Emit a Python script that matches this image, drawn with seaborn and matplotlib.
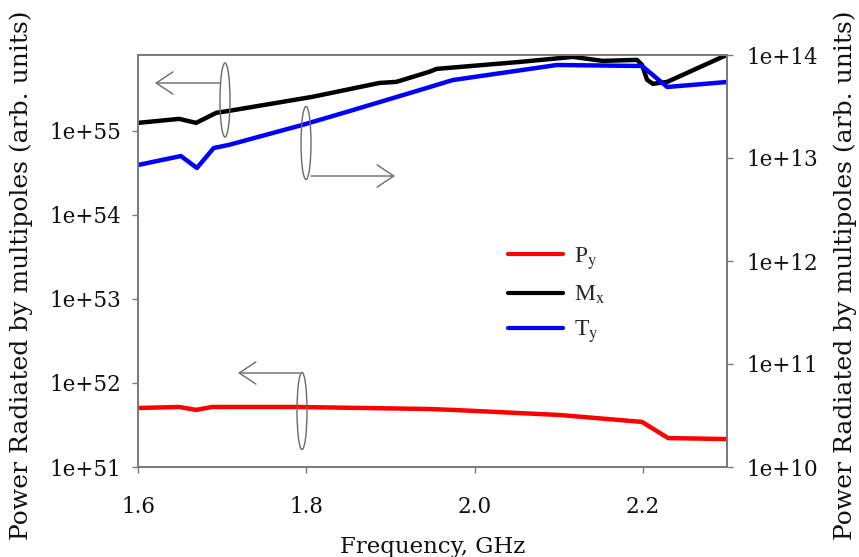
import numpy as np
import pandas as pd
import matplotlib
matplotlib.use("Agg")
import matplotlib.pyplot as plt
from matplotlib.patches import Ellipse, FancyArrowPatch
from matplotlib.lines import Line2D
from matplotlib.ticker import FixedLocator, FuncFormatter, NullLocator
import seaborn as sns

# ---------------- data ----------------
mx_freq = [1.600, 1.649, 1.669, 1.693, 1.708, 1.807, 1.887, 1.907, 1.946, 1.955,
           2.054, 2.117, 2.152, 2.193, 2.199, 2.205, 2.212, 2.229, 2.300]
mx_power = [1.245e55, 1.39e55, 1.245e55, 1.64e55, 1.73e55, 2.54e55, 3.72e55, 3.83e55,
            5.04e55, 5.47e55, 6.62e55, 7.60e55, 6.81e55, 7.00e55, 6.11e55, 4.05e55,
            3.63e55, 3.83e55, 8.04e55]

ty_freq = [1.600, 1.651, 1.670, 1.690, 1.708, 1.795, 1.848, 1.935, 1.974, 2.098,
           2.199, 2.229, 2.300]
ty_power = [8.55e12, 1.045e13, 8.0e12, 1.25e13, 1.34e13, 2.09e13, 2.80e13, 4.57e13,
            5.71e13, 8.0e13, 7.82e13, 4.89e13, 5.47e13]

py_freq = [1.600, 1.649, 1.669, 1.688, 1.788, 1.946, 1.974, 2.101, 2.199, 2.230, 2.300]
py_power = [5.04e51, 5.18e51, 4.78e51, 5.18e51, 5.18e51, 4.90e51, 4.78e51, 4.16e51,
            3.44e51, 2.21e51, 2.15e51]

x_ticks = [1.6, 1.8, 2.0, 2.2]
left_ticks = [1e51, 1e52, 1e53, 1e54, 1e55]
right_ticks = [1e10, 1e11, 1e12, 1e13, 1e14]
left_lim = (1e51, 8.0e55)
right_lim = (1e10, 1e14)
labels = [r'P$_{\rm y}$', r'M$_{\rm x}$', r'T$_{\rm y}$']
colors = ['#ff0000', '#000000', '#0000ff']
ylabel = 'Power Radiated by multipoles (arb. units)'
xlabel = 'Frequency, GHz'

# ---------------- style ----------------
sns.set_theme(style='white')
plt.rcParams['font.family'] = ['DejaVu Serif']
plt.rcParams['mathtext.fontset'] = 'stix'

W, H = 859, 557
fig = plt.figure(figsize=(W / 100, H / 100), dpi=100)
ax = fig.add_axes([138 / W, 1 - 467 / H, (727 - 138) / W, (467 - 55) / H])
ax2 = ax.twinx()
ax.set_yscale('log')
ax2.set_yscale('log')

lw = 3.2
sns.lineplot(x=py_freq, y=py_power, ax=ax, color=colors[0], lw=lw, sort=False,
             estimator=None, legend=False)
sns.lineplot(x=mx_freq, y=mx_power, ax=ax, color=colors[1], lw=lw, sort=False,
             estimator=None, legend=False)
sns.lineplot(x=ty_freq, y=ty_power, ax=ax2, color=colors[2], lw=lw, sort=False,
             estimator=None, legend=False)

ax.set_xlim(1.6, 2.3)
ax.set_ylim(*left_lim)
ax2.set_ylim(*right_lim)

fmt = FuncFormatter(lambda v, p: f"1e+{int(round(np.log10(v)))}")
for a, t in ((ax, left_ticks), (ax2, right_ticks)):
    a.yaxis.set_major_locator(FixedLocator(t))
    a.yaxis.set_minor_locator(NullLocator())
    a.yaxis.set_major_formatter(fmt)
ax.xaxis.set_major_locator(FixedLocator(x_ticks))
ax.xaxis.set_major_formatter(FuncFormatter(lambda v, p: f"{v:.1f}"))

tick_fs = 15.5
txt_c = '#111111'
spine_c = '#7a7a7a'
for a in (ax, ax2):
    for s in a.spines.values():
        s.set_color(spine_c)
        s.set_linewidth(1.3)
    a.tick_params(axis='both', which='major', length=4, width=1.0, color=spine_c,
                  labelsize=tick_fs, labelcolor=txt_c)
ax.tick_params(axis='y', left=True, right=False, pad=8)
ax.tick_params(axis='x', bottom=True, top=False, pad=17)
ax2.tick_params(axis='y', right=True, left=False, pad=10)

ax.set_xlabel(xlabel, fontsize=16.5, color=txt_c, labelpad=13)
ax.set_ylabel(ylabel, fontsize=18, color=txt_c)
ax2.set_ylabel(ylabel, fontsize=18, color=txt_c)
ylab_y = (467 - 275) / (467 - 55)
ax.yaxis.set_label_coords(-(138 - 33) / (727 - 138), ylab_y)
ax2.yaxis.set_label_coords(1 + (833 - 727) / (727 - 138), ylab_y)

# legend
handles = [Line2D([], [], color=c, lw=3.0) for c in colors]
leg = ax2.legend(handles, labels, loc='upper left',
                 bbox_to_anchor=(508 / W, 1 - 245 / H), bbox_transform=fig.transFigure,
                 frameon=False, borderpad=0, borderaxespad=0, handlelength=2.33,
                 handletextpad=0.45, labelspacing=0.52,
                 prop={'family': 'Liberation Serif', 'size': 17})

# annotations: ellipses and arrows (pixel positions of the figure)
ann_c = '#6a6a6a'
def fx(x):
    return x / W
def fy(y):
    return 1 - y / H

for cx, cy, w, h in ((225, 100, 10, 74), (306, 143, 10, 73), (302, 411, 10, 77)):
    fig.patches.append(Ellipse((fx(cx), fy(cy)), w / W, h / H, transform=fig.transFigure,
                               fill=False, edgecolor=ann_c, lw=1.0, zorder=5))

astyle = dict(arrowstyle='->, head_length=1.2, head_width=0.8', color=ann_c, lw=1.0,
              mutation_scale=10, shrinkA=0, shrinkB=0)
for (x0, y0, x1, y1) in ((220, 83, 155, 83), (311, 176, 395, 176), (300, 373, 238, 373)):
    fig.add_artist(FancyArrowPatch((fx(x0), fy(y0)), (fx(x1), fy(y1)),
                                   transform=fig.transFigure, **astyle))

fig.savefig('out.png', dpi=100)
